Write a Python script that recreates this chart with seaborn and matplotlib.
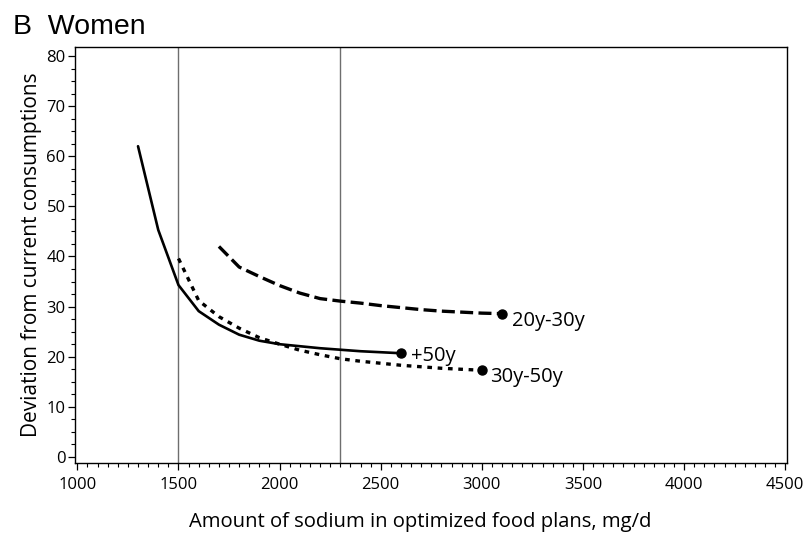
import matplotlib
matplotlib.use("Agg")
import matplotlib.pyplot as plt
import seaborn as sns
import pandas as pd
from matplotlib.ticker import MultipleLocator

# Data
x_50 = [1300, 1400, 1500, 1600, 1700, 1800, 1900, 2000, 2100, 2200, 2300, 2400, 2500, 2600]
y_50 = [62.0, 45.3, 34.3, 29.1, 26.4, 24.4, 23.2, 22.5, 22.1, 21.7, 21.4, 21.1, 20.9, 20.7]

x_30_50 = [1500, 1600, 1700, 1800, 1900, 2000, 2100, 2200, 2300, 2400, 2500, 2600, 2700, 2800, 2900, 3000]
y_30_50 = [39.6, 31.2, 28.0, 25.7, 23.8, 22.5, 21.3, 20.4, 19.6, 19.1, 18.7, 18.3, 18.0, 17.7, 17.5, 17.3]

x_20_30 = [1700, 1800, 1900, 2000, 2100, 2200, 2300, 2400, 2500, 2600, 2700, 2800, 2900, 3000, 3100]
y_20_30 = [42.0, 37.9, 36.0, 34.2, 32.7, 31.6, 31.1, 30.7, 30.2, 29.8, 29.4, 29.1, 28.9, 28.7, 28.6]

series_labels = ["+50y", "30y-50y", "20y-30y"]
ref_lines = [1500, 2300]

title = "B  Women"
xlabel = "Amount of sodium in optimized food plans, mg/d"
ylabel = "Deviation from current consumptions"

df = pd.concat([
    pd.DataFrame({"x": x_50, "y": y_50, "group": series_labels[0]}),
    pd.DataFrame({"x": x_30_50, "y": y_30_50, "group": series_labels[1]}),
    pd.DataFrame({"x": x_20_30, "y": y_20_30, "group": series_labels[2]}),
])

sns.set_style("ticks")
plt.rcParams["text.color"] = "black"
plt.rcParams["axes.labelcolor"] = "black"
plt.rcParams["xtick.color"] = "black"
plt.rcParams["ytick.color"] = "black"
plt.rcParams["font.family"] = ["Open Sans", "DejaVu Sans"]

fig = plt.figure(figsize=(8.06, 5.37), dpi=100)
ax = fig.add_axes([0.0927, 0.1378, 0.9768 - 0.0927, 0.9125 - 0.1378])

dash_map = {"+50y": "", "30y-50y": (1.4, 1.7), "20y-30y": (3.9, 1.6)}
sns.lineplot(data=df, x="x", y="y", hue="group", style="group",
             palette={k: "black" for k in series_labels},
             dashes=dash_map, linewidth=2.4, legend=False, ax=ax,
             estimator=None, sort=False)
# solid line slightly thinner, as in the reference
ax.lines[0].set_linewidth(1.9)

for xv in ref_lines:
    ax.axvline(xv, color="#6e6e6e", linewidth=1.0, zorder=1)

# End markers and labels
ends = [(x_50, y_50, series_labels[0], (7, -2)),
        (x_30_50, y_30_50, series_labels[1], (6, -5)),
        (x_20_30, y_20_30, series_labels[2], (7, -5))]
for xs, ys, lab, off in ends:
    ax.plot(xs[-1], ys[-1], "o", color="black", markersize=6.5, zorder=5)
    ax.annotate(lab, (xs[-1], ys[-1]), xytext=off, textcoords="offset points",
                ha="left", va="center", fontsize=14.5, color="black")

ax.set_xlim(987, 4510)
ax.set_ylim(-1.2, 81.8)
ax.xaxis.set_major_locator(MultipleLocator(500))
ax.xaxis.set_minor_locator(MultipleLocator(50))
ax.yaxis.set_major_locator(MultipleLocator(10))
ax.yaxis.set_minor_locator(MultipleLocator(2.5))
ax.tick_params(which="major", length=5, width=0.9, labelsize=12, color="black")
ax.tick_params(which="minor", length=3, width=0.8, color="black")
ax.tick_params(axis="x", pad=5)
ax.tick_params(axis="y", pad=1.5)

for sp in ax.spines.values():
    sp.set_visible(True)
    sp.set_linewidth(1.0)
    sp.set_color("black")

ax.set_xlabel(xlabel, fontsize=14.6, labelpad=14)
ax.xaxis.label.set_x(0.485)
ax.set_ylabel(ylabel, fontsize=15, labelpad=3)

fig.text(0.016, 0.95, title, fontsize=20.5, family="Liberation Sans",
         ha="left", va="center", color="black")

fig.savefig("out.png", dpi=100)
